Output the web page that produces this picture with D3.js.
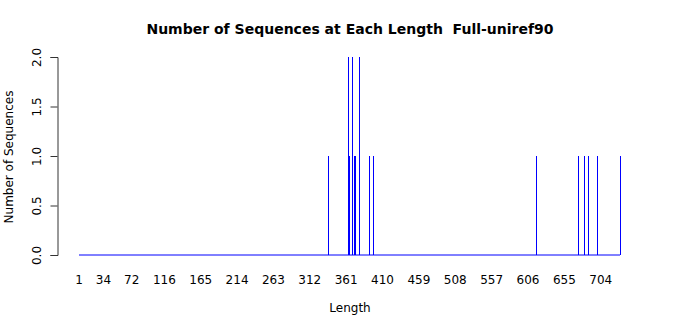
<!DOCTYPE html>
<html>
<head>
<meta charset="utf-8">
<script src="https://cdn.jsdelivr.net/npm/d3@7"></script>
<style>
  body { margin: 0; background: #fff; }
  text { font-family: "DejaVu Sans", sans-serif; }
</style>
</head>
<body>
<div id="chart"></div>
<script>
// sequence lengths and how many sequences have each
const lengths = [337, 363, 365, 369, 371, 373, 378, 392, 397, 617, 673, 682, 687, 699, 730];
const counts  = [1,   2,   1,   2,   1,   1,   2,   1,   1,   1,   1,   1,   1,   1,   1];
const xTickLabels = [1, 34, 72, 116, 165, 214, 263, 312, 361, 410, 459, 508, 557, 606, 655, 704];
const yTicks = [0, 0.5, 1, 1.5, 2];
const minLength = 1, maxLength = 730;

const width = 700, height = 315;
const svg = d3.select('#chart').append('svg')
    .attr('width', width)
    .attr('height', height);

const x = d3.scaleLinear().domain([minLength, maxLength]).range([79, 620]);
const y = d3.scaleLinear().domain([0, 2]).range([255, 57]);

// title (keep the double space)
svg.append('text')
    .attr('x', 350).attr('y', 34)
    .attr('text-anchor', 'middle')
    .attr('font-size', 14).attr('font-weight', 'bold')
    .style('white-space', 'pre')
    .text('Number of Sequences at Each Length  Full-uniref90');

// baseline across all lengths
svg.append('line')
    .attr('x1', x(minLength)).attr('x2', x(maxLength))
    .attr('y1', y(0)).attr('y2', y(0))
    .attr('stroke', '#0000ff').attr('stroke-width', 1);

// vertical lines per length
svg.append('g').selectAll('line')
    .data(lengths)
    .enter().append('line')
    .attr('x1', d => Math.round(x(d)) + 0.5)
    .attr('x2', d => Math.round(x(d)) + 0.5)
    .attr('y1', y(0))
    .attr('y2', (d, i) => y(counts[i]))
    .attr('stroke', '#0000ff').attr('stroke-width', 1);

// y axis, labels rotated like R
const yAxis = svg.append('g')
    .attr('transform', 'translate(57.5,0)')
    .call(d3.axisLeft(y).tickValues(yTicks).tickSize(7).tickFormat(d3.format('.1f')));
yAxis.select('.domain').attr('stroke', '#333');
yAxis.selectAll('.tick line').attr('stroke', '#333');
yAxis.selectAll('.tick text')
    .attr('font-size', 12)
    .attr('font-family', '"DejaVu Sans", sans-serif')
    .attr('fill', '#000')
    .attr('text-anchor', 'middle')
    .attr('transform', 'rotate(-90)')
    .attr('x', 0)
    .attr('y', -20)
    .attr('dy', '0.32em');

// x tick labels (no tick marks)
svg.append('g').selectAll('text')
    .data(xTickLabels)
    .enter().append('text')
    .attr('x', d => x(d))
    .attr('y', 284)
    .attr('text-anchor', 'middle')
    .attr('font-size', 12)
    .text(d => d);

// axis titles
svg.append('text')
    .attr('x', 350).attr('y', 312)
    .attr('text-anchor', 'middle')
    .attr('font-size', 12)
    .text('Length');

svg.append('text')
    .attr('transform', 'translate(13,157) rotate(-90)')
    .attr('text-anchor', 'middle')
    .attr('font-size', 12)
    .text('Number of Sequences');
</script>
</body>
</html>
